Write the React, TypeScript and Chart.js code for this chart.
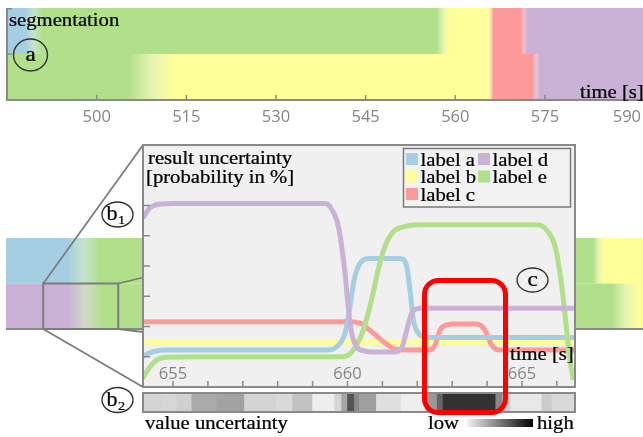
import React, { useEffect, useRef } from 'react';
import { Chart, registerables } from 'chart.js';

Chart.register(...registerables);

// ---------------- data ----------------
const LABEL_KEYS = ['a', 'b', 'c', 'd', 'e'];
const LABEL_NAMES = ['label a', 'label b', 'label c', 'label d', 'label e'];
const LABEL_COLORS = ['#a6cee3', '#ffff99', '#fb9a99', '#cab2d6', '#b2df8a'];
const LEGEND_ORDER = ['a', 'd', 'b', 'e', 'c'];

// (a) overview segmentation, time [s]
const SEG_MIN = 485;
const SEG_MAX = 591.4;
const SEG_TICKS = [500, 515, 530, 545, 560, 575, 590];
const SEG1_LABELS = ['a', 'e', 'b', 'c', 'd'];
const SEG1_FROM = [485, 491.0, 559.0, 566.4, 572.1];
const SEG1_TO = [488.0, 556.9, 565.5, 570.9, 591.4];
const SEG2_LABELS = ['e', 'b', 'c', 'd'];
const SEG2_FROM = [485, 513.1, 566.4, 574.2];
const SEG2_TO = [505.2, 565.5, 572.8, 591.4];

// zoomed segmentation strip, time [s]
const STRIP_MIN = 648.0;
const STRIP_MAX = 753.1;
const STRIP1_LABELS = ['a', 'e', 'b'];
const STRIP1_FROM = [648.0, 663.5, 746.6];
const STRIP1_TO = [658.1, 744.9, 753.1];
const STRIP2_LABELS = ['d', 'e', 'b'];
const STRIP2_FROM = [648.0, 664.0, 752.5];
const STRIP2_TO = [658.1, 747.9, 753.1];

// (b1) result uncertainty
const B1_MIN = 654.14;
const B1_MAX = 666.52;
const B1_XTICKS = [655, 656, 657, 658, 659, 660, 661, 662, 663, 664, 665, 666];
const B1_XLABELS = [655, 660, 665];
const B1_YTICKS = [1, 2, 3, 4, 5, 6];

const PROB_A_T = [654.14, 654.44, 654.82, 659.4, 659.69, 659.93, 660.07, 660.19, 660.36, 660.64, 661.5, 661.7, 661.79, 661.89, 662.03, 662.27, 666.52];
const PROB_A_V = [1.02, 1.17, 1.22, 1.22, 1.33, 1.78, 2.65, 3.54, 4.09, 4.25, 4.25, 3.98, 3.21, 2.21, 1.78, 1.64, 1.64];
const PROB_B_T = [654.14, 666.52];
const PROB_B_V = [1.48, 1.48];
const PROB_C_T = [654.14, 660.02, 660.36, 660.64, 660.98, 661.31, 661.7, 662.36, 662.51, 662.65, 662.84, 663.08, 663.7, 663.94, 664.13, 664.37, 666.52];
const PROB_C_V = [2.16, 2.16, 2.11, 1.88, 1.55, 1.28, 1.22, 1.22, 1.39, 1.88, 2.05, 2.08, 2.08, 1.88, 1.39, 1.22, 1.22];
const PROB_D_T = [654.14, 654.34, 654.63, 655.06, 659.35, 659.5, 659.74, 659.93, 660.02, 660.12, 660.26, 660.45, 660.7, 661.36, 661.55, 661.7, 661.84, 662.08, 666.52];
const PROB_D_V = [5.59, 5.92, 6.05, 6.07, 6.07, 5.96, 5.3, 3.76, 2.65, 1.78, 1.33, 1.2, 1.16, 1.16, 1.28, 1.88, 2.44, 2.6, 2.6];
const PROB_E_T = [654.14, 654.34, 654.53, 654.82, 655.77, 659.88, 660.17, 660.45, 660.69, 660.88, 661.07, 661.31, 661.7, 662.08, 665.42, 665.71, 665.95, 666.09, 666.23, 666.35, 666.47];
const PROB_E_V = [0.29, 0.67, 0.89, 0.98, 1.0, 1.0, 1.22, 1.88, 2.88, 3.87, 4.64, 5.13, 5.32, 5.36, 5.36, 5.19, 4.64, 3.76, 2.44, 1.11, 0.23];

// (b2) value uncertainty cells (edges in s, uncertainty 0..1)
const U_EDGES = [654.14, 654.71, 655.11, 655.54, 656.25, 657.05, 657.97, 658.43, 659.0, 659.63, 659.83, 660.0, 660.2, 660.34, 660.83, 661.54, 662.25, 662.57, 662.74, 664.25, 664.45, 664.68, 665.57, 665.86, 666.52];
const U_VALUES = [0.15, 0.13, 0.17, 0.37, 0.41, 0.15, 0.12, 0.24, 0.01, 0.14, 0.39, 0.82, 0.54, 0.42, 0.09, 0.01, 0.46, 0.73, 1.0, 0.55, 0.17, 0.04, 0.19, 0.12];

// ---------------- styling / layout ----------------
const AXIS = '#8a8a8a';
const TICK_TEXT = '#858585';
const TICK_FONT = '16.5px "Open Sans"';
const SERIF = "'Liberation Serif', 'Times New Roman', serif";
const B1_BOX = { left: 143, top: 145, right: 575, bottom: 387 };
const STRIP_CANVAS_TOP = 140;

const colorOf = (k: string) => LABEL_COLORS[LABEL_KEYS.indexOf(k)];
const hexToRgb = (h: string) => {
  const n = parseInt(h.slice(1), 16);
  return [(n >> 16) & 255, (n >> 8) & 255, n & 255];
};
const fadeMix = (c1: string, c2: string) => {
  const a = hexToRgb(c1);
  const b = hexToRgb(c2);
  const w = 0.3;
  const m = a.map((v, i) => Math.round(((v + b[i]) / 2) * (1 - w) + 255 * w));
  return `rgb(${m.join(',')})`;
};
const grayFor = (u: number) => {
  const g = Math.round(240 - u * 190);
  return `rgb(${g},${g},${g})`;
};

type Row = { labels: string[]; from: number[]; to: number[] };

function rowGradient(chart: any, row: Row) {
  const xs = chart.scales && chart.scales.x;
  if (!chart.chartArea || !xs) return 'transparent';
  const x0 = xs.getPixelForValue(row.from[0]);
  const x1 = xs.getPixelForValue(row.to[row.to.length - 1]);
  const g = chart.ctx.createLinearGradient(x0, 0, x1, 0);
  const f = (t: number) => Math.min(1, Math.max(0, (xs.getPixelForValue(t) - x0) / (x1 - x0)));
  row.labels.forEach((k, i) => {
    g.addColorStop(f(row.from[i]), colorOf(k));
    g.addColorStop(f(row.to[i]), colorOf(k));
    if (i < row.labels.length - 1) {
      const mid = (row.to[i] + row.from[i + 1]) / 2;
      g.addColorStop(f(mid), fadeMix(colorOf(k), colorOf(row.labels[i + 1])));
    }
  });
  return g;
}

function segConfig(min: number, max: number, rows: Row[], padding: any, decor: any) {
  return {
    type: 'bar',
    data: {
      labels: rows.map((_, i) => `row ${i + 1}`),
      datasets: [
        {
          data: rows.map((r) => [r.from[0], r.to[r.to.length - 1]]),
          backgroundColor: (ctx: any) => rowGradient(ctx.chart, rows[ctx.dataIndex]),
          borderWidth: 0,
          barPercentage: 1,
          categoryPercentage: 1,
          inflateAmount: 0,
        },
      ],
    },
    options: {
      indexAxis: 'y',
      responsive: false,
      animation: false,
      devicePixelRatio: 1,
      events: [],
      layout: { padding },
      scales: {
        x: { type: 'linear', min, max, display: false },
        y: { type: 'category', display: false, offset: true },
      },
      plugins: { legend: { display: false }, tooltip: { enabled: false } },
    },
    plugins: [decor],
  } as any;
}

const line = (ctx: any, x0: number, y0: number, x1: number, y1: number) => {
  ctx.beginPath();
  ctx.moveTo(x0, y0);
  ctx.lineTo(x1, y1);
  ctx.stroke();
};

const segDecor = {
  id: 'segDecor',
  afterDatasetsDraw(chart: any) {
    const { ctx, chartArea: a, scales, width } = chart;
    const x = scales.x;
    const y = scales.y;
    ctx.save();
    ctx.strokeStyle = AXIS;
    ctx.lineWidth = 2;
    ctx.beginPath();
    ctx.moveTo(a.left, a.top);
    ctx.lineTo(a.left, a.bottom);
    ctx.lineTo(a.right, a.bottom);
    ctx.stroke();
    ctx.lineWidth = 1.5;
    const mid = (y.getPixelForValue(0) + y.getPixelForValue(1)) / 2;
    [a.top + 0.75, mid].forEach((v) => line(ctx, a.left, v, a.left + 5, v));
    SEG_TICKS.forEach((t) => {
      const px = x.getPixelForValue(t);
      line(ctx, px, a.bottom, px, a.bottom - 5);
    });
    ctx.fillStyle = TICK_TEXT;
    ctx.font = TICK_FONT;
    ctx.textAlign = 'center';
    ctx.textBaseline = 'alphabetic';
    SEG_TICKS.forEach((t) => {
      const label = String(t);
      const half = ctx.measureText(label).width / 2;
      const px = Math.min(x.getPixelForValue(t), width - half - 2);
      ctx.fillText(label, px, a.bottom + 22);
    });
    ctx.restore();
  },
};

const stripDecor = {
  id: 'stripDecor',
  afterDatasetsDraw(chart: any) {
    const { ctx, chartArea: a, scales } = chart;
    const x = scales.x;
    const y = scales.y;
    const mid = (y.getPixelForValue(0) + y.getPixelForValue(1)) / 2;
    ctx.save();
    ctx.strokeStyle = AXIS;
    ctx.lineWidth = 2;
    line(ctx, a.left, a.bottom, a.right, a.bottom);
    const x0 = x.getPixelForValue(B1_MIN);
    const x1 = x.getPixelForValue(B1_MAX);
    ctx.strokeStyle = '#7c7c7c';
    ctx.strokeRect(x0, mid, x1 - x0, a.bottom - mid);
    ctx.lineWidth = 1.8;
    const bl = B1_BOX.left;
    const off = STRIP_CANVAS_TOP;
    line(ctx, x0, mid, bl, B1_BOX.top - off);
    line(ctx, x0, a.bottom, bl, B1_BOX.bottom - off);
    line(ctx, x1, mid, bl, mid - 6);
    line(ctx, x1, a.bottom, bl, a.bottom + 3);
    ctx.restore();
  },
};

const b1Decor = {
  id: 'b1Decor',
  beforeDatasetsDraw(chart: any) {
    const { ctx, chartArea: a } = chart;
    ctx.save();
    ctx.fillStyle = '#f0f0f0';
    ctx.fillRect(a.left, a.top, a.right - a.left, a.bottom - a.top);
    ctx.restore();
  },
  afterDatasetsDraw(chart: any) {
    const { ctx, chartArea: a, scales } = chart;
    const x = scales.x;
    const y = scales.y;
    ctx.save();
    ctx.strokeStyle = AXIS;
    ctx.lineWidth = 1.5;
    B1_XTICKS.forEach((t) => {
      const px = x.getPixelForValue(t);
      line(ctx, px, a.bottom, px, a.bottom - 6);
    });
    B1_YTICKS.forEach((v) => {
      const py = y.getPixelForValue(v);
      line(ctx, a.left, py, a.left + 7, py);
    });
    ctx.fillStyle = TICK_TEXT;
    ctx.font = TICK_FONT;
    ctx.textAlign = 'center';
    ctx.textBaseline = 'alphabetic';
    B1_XLABELS.forEach((t) => ctx.fillText(String(t), x.getPixelForValue(t), a.bottom - 8));
    ctx.lineWidth = 2;
    ctx.strokeRect(a.left, a.top, a.right - a.left, a.bottom - a.top);
    ctx.restore();
  },
};

const b2Decor = {
  id: 'b2Decor',
  afterDatasetsDraw(chart: any) {
    const { ctx, chartArea: a } = chart;
    ctx.save();
    ctx.strokeStyle = AXIS;
    ctx.lineWidth = 2;
    ctx.strokeRect(a.left, a.top, a.right - a.left, a.bottom - a.top);
    ctx.restore();
  },
};

const SERIES = [
  { key: 'a', t: PROB_A_T, v: PROB_A_V, order: 2 },
  { key: 'b', t: PROB_B_T, v: PROB_B_V, order: 4 },
  { key: 'c', t: PROB_C_T, v: PROB_C_V, order: 3 },
  { key: 'd', t: PROB_D_T, v: PROB_D_V, order: 0 },
  { key: 'e', t: PROB_E_T, v: PROB_E_V, order: 1 },
];

function Txt(props: { x: number; y: number; size?: number; sx?: number; anchor?: string; children: any }) {
  const { x, y, size = 18, sx = 1.15, anchor = 'start', children } = props;
  return (
    <text
      transform={`translate(${x},${y}) scale(${sx},1)`}
      fontFamily={SERIF}
      fontSize={size}
      fill="#000"
      stroke="#000"
      strokeWidth={0.25}
      textAnchor={anchor as any}
    >
      {children}
    </text>
  );
}

function Badge(props: { cx: number; cy: number; rx: number; ry: number; letter: string; sub?: string; baseline: number }) {
  const { cx, cy, rx, ry, letter, sub, baseline } = props;
  return (
    <g>
      <ellipse cx={cx} cy={cy} rx={rx} ry={ry} fill="none" stroke="#333" strokeWidth={1.4} />
      {sub ? (
        <g>
          <Txt x={cx - 11} y={baseline} size={20} sx={1.1}>{letter}</Txt>
          <Txt x={cx + 0.5} y={baseline + 4} size={13} sx={1.1}>{sub}</Txt>
        </g>
      ) : (
        <Txt x={cx} y={baseline} size={21} sx={1.1} anchor="middle">{letter}</Txt>
      )}
    </g>
  );
}

export default function App() {
  const segRef = useRef<HTMLCanvasElement>(null);
  const stripRef = useRef<HTMLCanvasElement>(null);
  const b1Ref = useRef<HTMLCanvasElement>(null);
  const b2Ref = useRef<HTMLCanvasElement>(null);

  useEffect(() => {
    const charts: any[] = [];
    const segRows: Row[] = [
      { labels: SEG1_LABELS, from: SEG1_FROM, to: SEG1_TO },
      { labels: SEG2_LABELS, from: SEG2_FROM, to: SEG2_TO },
    ];
    const stripRows: Row[] = [
      { labels: STRIP1_LABELS, from: STRIP1_FROM, to: STRIP1_TO },
      { labels: STRIP2_LABELS, from: STRIP2_FROM, to: STRIP2_TO },
    ];
    charts.push(
      new Chart(segRef.current as any, segConfig(SEG_MIN, SEG_MAX, segRows, { left: 7, top: 8, right: 0, bottom: 32 }, segDecor))
    );
    charts.push(
      new Chart(
        stripRef.current as any,
        segConfig(STRIP_MIN, STRIP_MAX, stripRows, { left: 6, top: 98, right: 0, bottom: 66 }, stripDecor)
      )
    );
    charts.push(
      new Chart(b1Ref.current as any, {
        type: 'line',
        data: {
          datasets: SERIES.map((s) => ({
            label: LABEL_NAMES[LABEL_KEYS.indexOf(s.key)],
            data: s.t.map((t, i) => ({ x: t, y: s.v[i] })),
            borderColor: colorOf(s.key),
            borderWidth: 5,
            pointRadius: 0,
            fill: false,
            cubicInterpolationMode: 'monotone',
            order: s.order,
            clip: 0,
          })),
        },
        options: {
          responsive: false,
          animation: false,
          devicePixelRatio: 1,
          events: [],
          layout: { padding: 2 },
          scales: {
            x: { type: 'linear', min: B1_MIN, max: B1_MAX, display: false },
            y: { type: 'linear', min: 0, max: 8, display: false },
          },
          plugins: { legend: { display: false }, tooltip: { enabled: false } },
        },
        plugins: [b1Decor],
      } as any)
    );
    charts.push(
      new Chart(b2Ref.current as any, {
        type: 'bar',
        data: {
          labels: ['value uncertainty'],
          datasets: [
            {
              data: U_VALUES.map((u, i) => ({ y: 'value uncertainty', x: [U_EDGES[i], U_EDGES[i + 1]] })),
              backgroundColor: U_VALUES.map(grayFor),
              borderWidth: 0,
              barPercentage: 1,
              categoryPercentage: 1,
            },
          ],
        },
        options: {
          indexAxis: 'y',
          responsive: false,
          animation: false,
          devicePixelRatio: 1,
          events: [],
          layout: { padding: 2 },
          scales: {
            x: { type: 'linear', min: B1_MIN, max: B1_MAX, display: false },
            y: { type: 'category', display: false, offset: true },
          },
          plugins: { legend: { display: false }, tooltip: { enabled: false } },
        },
        plugins: [b2Decor],
      } as any)
    );
    return () => charts.forEach((c) => c.destroy());
  }, []);

  const abs = (left: number, top: number): React.CSSProperties => ({ position: 'absolute', left, top });

  return (
    <div style={{ position: 'absolute', left: 0, top: 0, width: 643, height: 437, overflow: 'hidden', background: '#fff' }}>
      <canvas ref={stripRef} width={643} height={255} style={abs(0, STRIP_CANVAS_TOP)} />
      <canvas ref={segRef} width={643} height={132} style={abs(0, 0)} />
      <canvas ref={b1Ref} width={436} height={246} style={abs(141, 143)} />
      <canvas ref={b2Ref} width={436} height={23} style={abs(141, 391)} />
      <svg width={643} height={437} style={{ position: 'absolute', left: 0, top: 0, pointerEvents: 'none' }}>
        <defs>
          <linearGradient id="lowhigh" x1="0" x2="1" y1="0" y2="0">
            <stop offset="0" stopColor="#f2f2f2" />
            <stop offset="1" stopColor="#000" />
          </linearGradient>
        </defs>
        <Txt x={9} y={25.5}>segmentation</Txt>
        <Txt x={580} y={98}>time [s]</Txt>
        <Badge cx={30.5} cy={55} rx={17} ry={16} letter="a" baseline={61} />

        <Txt x={148} y={164}>result uncertainty</Txt>
        <Txt x={146} y={183}>[probability in %]</Txt>
        <Txt x={510} y={360}>time [s]</Txt>

        <rect x={403.5} y={148.5} width={167} height={58.5} fill="#f2f2f2" stroke="#7a7a7a" strokeWidth={1.5} />
        {LEGEND_ORDER.map((k, i) => {
          const col = i % 2;
          const row = Math.floor(i / 2);
          const mx = 406 + col * 72;
          const base = 165.5 + row * 17.5;
          return (
            <g key={k}>
              <rect x={mx} y={base - 12.5} width={12} height={12} fill={colorOf(k)} />
              <Txt x={mx + 14.5} y={base}>{LABEL_NAMES[LABEL_KEYS.indexOf(k)]}</Txt>
            </g>
          );
        })}

        <Badge cx={117.5} cy={214.5} rx={15.5} ry={12.5} letter="b" sub="1" baseline={220} />
        <Badge cx={117.5} cy={400} rx={15.5} ry={12.5} letter="b" sub="2" baseline={405.5} />
        <Badge cx={532.5} cy={280} rx={15.5} ry={12} letter="c" baseline={285.5} />

        <Txt x={145} y={429}>value uncertainty</Txt>
        <Txt x={428} y={429}>low</Txt>
        <rect x={467} y={419} width={66} height={8} fill="url(#lowhigh)" />
        <Txt x={537} y={429}>high</Txt>

        <rect x={424.5} y={280.5} width={81} height={132} rx={14} ry={14} fill="none" stroke="#ff0000" strokeWidth={5} />
      </svg>
    </div>
  );
}
